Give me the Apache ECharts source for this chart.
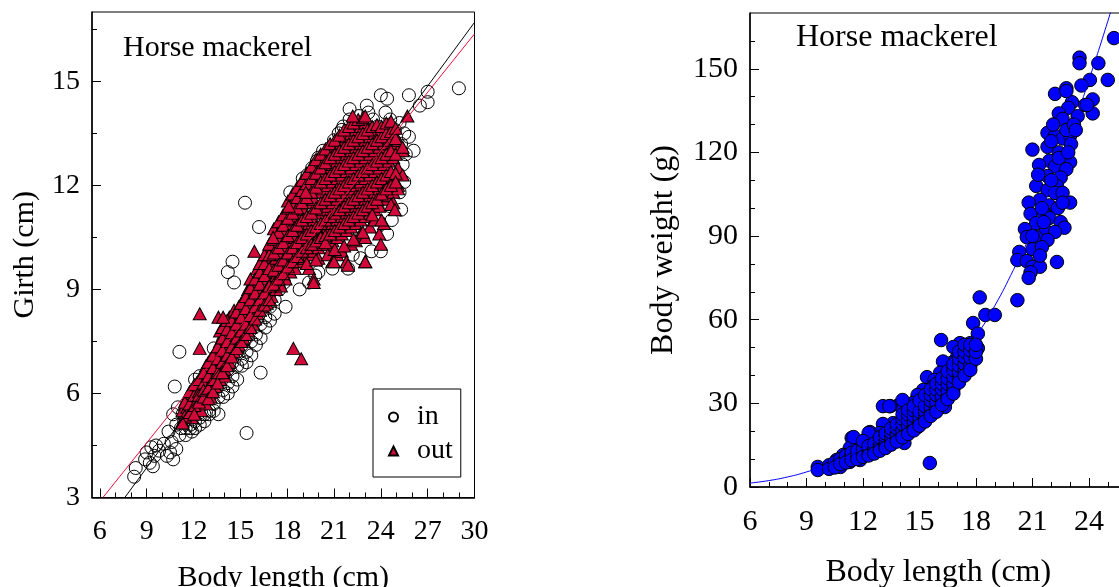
<!DOCTYPE html>
<html>
<head>
<meta charset="utf-8">
<script src="https://cdn.jsdelivr.net/npm/echarts@6/dist/echarts.min.js"></script>
<style>
  body { margin: 0; background: #fff; }
  #chart { width: 1119px; height: 587px; }
</style>
</head>
<body>
<div id="chart"></div>
<script>
// tick labels
var leftXTicks = [6, 9, 12, 15, 18, 21, 24, 27, 30];
var leftXMinor = [7, 8, 10, 11, 13, 14, 16, 17, 19, 20, 22, 23, 25, 26, 28, 29];
var leftYTicks = [3, 6, 9, 12, 15];
var leftYMinor = [4.5, 7.5, 10.5, 13.5, 16.5];
var rightXTicks = [6, 9, 12, 15, 18, 21, 24];
var rightXMinor = [7, 8, 10, 11, 13, 14, 16, 17, 19, 20, 22, 23, 25];
var rightYTicks = [0, 30, 60, 90, 120, 150];
var rightYMinor = [10, 20, 40, 50, 70, 80, 100, 110, 130, 140, 160];

// girth vs length, fish caught "in"
var inPoints = [
  [8.2, 3.6], [8.3, 3.85], [8.9, 4.1], [9.0, 4.3], [9.2, 4.0], [9.4, 3.9], [9.3, 4.45], [9.6, 4.5],
  [9.5, 4.2], [9.8, 4.35], [10.1, 4.55], [10.3, 4.2], [10.5, 4.3], [10.6, 4.6], [10.4, 4.9], [10.7, 4.1],
  [10.9, 4.4], [10.9, 5.1], [11.1, 4.8], [11.2, 5.0], [11.4, 5.2], [10.7, 5.4], [11.0, 5.6], [11.3, 5.4],
  [11.1, 7.2], [10.8, 6.2], [11.9, 4.9],
  [11.5, 5.0], [11.5, 5.3], [11.5, 5.6], [11.5, 4.8],
  [11.8, 5.1], [11.8, 5.4], [11.8, 5.7], [11.8, 5.0],
  [12.1, 5.2], [12.1, 5.5], [12.1, 5.8], [12.1, 5.0], [12.1, 6.4],
  [12.4, 5.3], [12.4, 5.6], [12.4, 5.9], [12.4, 5.1], [12.4, 6.5],
  [12.7, 5.4], [12.7, 5.7], [12.7, 6.1], [12.7, 5.2],
  [13.0, 5.5], [13.0, 5.9], [13.0, 6.3], [13.0, 5.4], [13.0, 6.6],
  [13.3, 5.7], [13.3, 6.1], [13.3, 6.5], [13.3, 5.5], [13.3, 7.3],
  [13.6, 5.9], [13.6, 6.3], [13.6, 6.7], [13.6, 5.4], [13.6, 7.0],
  [13.9, 6.1], [13.9, 6.5], [13.9, 6.9], [13.9, 5.9], [13.9, 7.5],
  [14.2, 6.3], [14.2, 6.7], [14.2, 7.1], [14.2, 6.0],
  [14.5, 6.5], [14.5, 6.9], [14.5, 7.3], [14.5, 6.2],
  [14.8, 6.8], [14.8, 7.2], [14.8, 7.6], [14.8, 6.4],
  [15.1, 7.0], [15.1, 7.4], [15.1, 7.8], [15.1, 6.8], [15.1, 8.4],
  [15.4, 7.2], [15.4, 7.6], [15.4, 8.0], [15.4, 6.9],
  [15.7, 7.5], [15.7, 7.9], [15.7, 8.3], [15.7, 7.1],
  [16.0, 7.7], [16.0, 8.1], [16.0, 8.5], [16.0, 7.4], [16.0, 8.9],
  [16.3, 8.0], [16.3, 8.4], [16.3, 8.8], [16.3, 7.6],
  [16.6, 8.2], [16.6, 8.6], [16.6, 9.0], [16.6, 7.9], [16.6, 9.5],
  [16.9, 8.5], [16.9, 8.9], [16.9, 9.3], [16.9, 8.1],
  [17.2, 8.7], [17.2, 9.1], [17.2, 9.5], [17.2, 8.3], [17.2, 9.9],
  [17.5, 9.0], [17.5, 9.4], [17.5, 9.8], [17.8, 9.2], [17.8, 9.6],
  [18.3, 11.4], [18.6, 11.7], [19.0, 12.0], [19.3, 12.3], [19.6, 12.5], [20.0, 12.8], [20.3, 13.0], [20.6, 12.2],
  [21.0, 13.3], [21.3, 13.5], [21.6, 13.7], [22.0, 13.9], [22.4, 13.4], [22.6, 14.0], [23.2, 14.1], [23.5, 13.9],
  [23.8, 13.7], [24.3, 14.1], [24.6, 13.9], [24.9, 13.6], [25.2, 13.8], [25.5, 13.5], [25.3, 13.2], [25.6, 12.9],
  [25.4, 12.6], [25.5, 12.1], [25.2, 11.8], [25.3, 11.3], [24.7, 11.0], [24.4, 10.6], [24.0, 10.1], [23.4, 10.1],
  [22.7, 9.9], [21.9, 9.6], [20.9, 9.6], [20.0, 9.5], [19.4, 9.2], [18.8, 9.0], [19.8, 9.4], [22.2, 10.0],
  [23.8, 10.8], [24.6, 11.4], [24.9, 12.4],
  [20.5, 11.0], [21.5, 12.0], [22.5, 12.5], [23.5, 12.0], [19.5, 10.5], [18.5, 10.2], [24.0, 13.0],
  [15.3, 11.5], [16.2, 10.8], [14.5, 9.8], [14.2, 9.5], [14.6, 9.2], [15.4, 4.86], [16.3, 6.6],
  [17.9, 8.5], [18.2, 11.8], [19.0, 12.2], [19.9, 12.7], [22.0, 14.2], [23.1, 14.3], [24.0, 14.6],
  [24.4, 14.5], [25.8, 14.6], [27.0, 14.7], [27.0, 14.4], [29.0, 14.8], [26.5, 14.3], [26.1, 13.0],
  [25.8, 13.4], [21.5, 13.6], [20.8, 13.1]
];

// girth vs length, fish caught "out"
var outPoints = [
  [11.3, 5.2], [11.3, 5.5],
  [11.6, 5.4], [11.6, 5.9], [11.6, 5.6],
  [11.9, 5.5], [11.9, 5.8], [11.9, 6.0], [11.9, 5.3],
  [12.2, 5.6], [12.2, 6.1], [12.2, 5.9], [12.2, 6.3],
  [12.5, 5.8], [12.5, 6.2], [12.5, 6.5], [12.5, 5.5], [12.5, 6.0],
  [12.8, 6.0], [12.8, 6.4], [12.8, 6.8], [12.8, 5.7], [12.8, 6.2],
  [13.1, 6.3], [13.1, 6.6], [13.1, 7.0], [13.1, 5.9], [13.1, 6.8],
  [13.4, 6.5], [13.4, 6.9], [13.4, 7.2], [13.4, 6.2], [13.4, 6.7],
  [13.7, 6.8], [13.7, 7.1], [13.7, 7.5], [13.7, 6.4], [13.7, 7.8],
  [14.0, 7.0], [14.0, 7.4], [14.0, 7.7], [14.0, 6.7], [14.0, 8.0], [14.0, 6.5],
  [14.3, 7.2], [14.3, 7.6], [14.3, 8.0], [14.3, 6.9], [14.3, 8.2], [14.3, 7.4],
  [14.6, 7.5], [14.6, 7.9], [14.6, 8.2], [14.6, 7.2], [14.6, 8.4],
  [14.9, 7.7], [14.9, 8.1], [14.9, 8.5], [14.9, 7.4], [14.9, 8.0],
  [15.2, 7.9], [15.2, 8.3], [15.2, 8.7], [15.2, 7.6], [15.2, 8.5],
  [15.5, 8.1], [15.5, 8.6], [15.5, 8.9], [15.5, 7.8], [15.5, 9.0],
  [15.8, 8.4], [15.8, 8.8], [15.8, 9.2], [15.8, 8.0],
  [16.1, 8.6], [16.1, 9.0], [16.1, 9.4], [16.1, 8.3], [16.1, 9.6],
  [16.4, 8.8], [16.4, 9.3], [16.4, 9.6], [16.4, 8.5], [16.4, 9.8],
  [16.7, 9.0], [16.7, 9.5], [16.7, 9.9], [16.7, 8.6], [16.7, 10.1],
  [17.0, 9.2], [17.0, 9.7], [17.0, 10.1], [17.0, 8.8], [17.0, 10.4],
  [17.3, 9.4], [17.3, 9.9], [17.3, 10.3], [17.3, 9.0], [17.3, 10.6],
  [17.6, 9.5], [17.6, 10.0], [17.6, 10.5], [17.6, 9.1], [17.6, 10.8], [17.6, 11.0],
  [17.9, 9.7], [17.9, 10.2], [17.9, 10.7], [17.9, 9.3], [17.9, 11.0], [17.9, 10.4],
  [18.2, 9.9], [18.2, 10.4], [18.2, 10.9], [18.2, 9.5], [18.2, 11.2], [18.2, 11.4],
  [18.5, 10.0], [18.5, 10.5], [18.5, 11.0], [18.5, 9.6], [18.5, 11.3], [18.5, 11.6], [18.5, 10.8],
  [18.8, 10.2], [18.8, 10.7], [18.8, 11.2], [18.8, 9.8], [18.8, 11.5], [18.8, 11.8],
  [19.1, 10.3], [19.1, 10.8], [19.1, 11.3], [19.1, 9.9], [19.1, 11.7], [19.1, 12.0], [19.1, 11.0],
  [19.4, 10.4], [19.4, 10.9], [19.4, 11.5], [19.4, 10.0], [19.4, 11.9], [19.4, 12.2], [19.4, 9.6],
  [19.7, 10.5], [19.7, 11.0], [19.7, 11.6], [19.7, 10.1], [19.7, 12.0], [19.7, 12.4], [19.7, 9.3],
  [20.0, 10.6], [20.0, 11.2], [20.0, 11.8], [20.0, 10.2], [20.0, 12.2], [20.0, 12.6], [20.0, 9.9],
  [20.3, 10.7], [20.3, 11.3], [20.3, 11.9], [20.3, 10.3], [20.3, 12.3], [20.3, 12.7], [20.3, 11.5],
  [20.6, 10.8], [20.6, 11.4], [20.6, 12.0], [20.6, 10.3], [20.6, 12.5], [20.6, 12.9], [20.6, 10.0],
  [20.9, 10.9], [20.9, 11.5], [20.9, 12.1], [20.9, 10.4], [20.9, 12.6], [20.9, 13.0], [20.9, 9.8],
  [21.2, 11.0], [21.2, 11.6], [21.2, 12.2], [21.2, 10.5], [21.2, 12.7], [21.2, 13.1], [21.2, 10.0], [21.2, 11.9],
  [21.5, 11.1], [21.5, 11.7], [21.5, 12.3], [21.5, 10.6], [21.5, 12.8], [21.5, 13.3], [21.5, 10.1],
  [21.8, 11.2], [21.8, 11.8], [21.8, 12.4], [21.8, 10.7], [21.8, 12.9], [21.8, 13.4], [21.8, 9.8], [21.8, 12.1],
  [22.1, 11.3], [22.1, 11.9], [22.1, 12.5], [22.1, 10.8], [22.1, 13.0], [22.1, 13.5], [22.1, 10.3],
  [22.4, 11.4], [22.4, 12.0], [22.4, 12.6], [22.4, 10.9], [22.4, 13.1], [22.4, 13.6], [22.4, 10.4], [22.4, 11.7],
  [22.7, 11.5], [22.7, 12.1], [22.7, 12.7], [22.7, 11.0], [22.7, 13.2], [22.7, 13.7], [22.7, 10.6],
  [23.0, 11.6], [23.0, 12.2], [23.0, 12.8], [23.0, 11.1], [23.0, 13.3], [23.0, 13.8], [23.0, 10.5], [23.0, 9.8],
  [23.3, 11.7], [23.3, 12.3], [23.3, 12.9], [23.3, 11.2], [23.3, 13.4], [23.3, 13.6], [23.3, 10.8],
  [23.6, 11.8], [23.6, 12.4], [23.6, 13.0], [23.6, 11.3], [23.6, 13.5], [23.6, 11.0],
  [23.9, 11.9], [23.9, 12.5], [23.9, 13.1], [23.9, 11.4], [23.9, 13.5], [23.9, 10.6],
  [24.2, 12.0], [24.2, 12.6], [24.2, 13.2], [24.2, 11.6], [24.2, 13.5], [24.2, 10.9],
  [24.5, 12.1], [24.5, 12.7], [24.5, 13.3], [24.5, 11.7], [24.5, 13.6],
  [24.8, 12.2], [24.8, 12.8], [24.8, 13.2], [24.8, 11.8], [24.8, 13.5], [24.8, 11.5],
  [25.1, 12.0], [25.1, 12.5], [25.1, 13.0], [25.1, 11.9], [25.1, 13.3],
  [25.4, 13.0], [25.4, 12.3],
  [11.45, 5.35], [11.45, 5.75],
  [11.75, 5.45], [11.75, 5.7], [11.75, 6.05],
  [12.05, 5.65], [12.05, 5.95], [12.05, 6.25], [12.05, 5.4],
  [12.35, 5.75], [12.35, 6.05], [12.35, 6.4], [12.35, 5.95],
  [12.65, 5.9], [12.65, 6.3], [12.65, 6.6], [12.65, 6.1],
  [12.95, 6.15], [12.95, 6.5], [12.95, 6.9], [12.95, 5.85],
  [13.25, 6.4], [13.25, 6.75], [13.25, 7.1], [13.25, 6.05],
  [13.55, 6.6], [13.55, 7.0], [13.55, 7.35], [13.55, 6.3],
  [13.85, 6.9], [13.85, 7.25], [13.85, 7.6], [13.85, 6.6], [13.85, 7.9],
  [14.15, 7.1], [14.15, 7.5], [14.15, 7.85], [14.15, 6.8], [14.15, 8.1],
  [14.45, 7.35], [14.45, 7.75], [14.45, 8.1], [14.45, 7.05],
  [14.75, 7.6], [14.75, 8.0], [14.75, 8.35], [14.75, 7.3],
  [15.05, 7.8], [15.05, 8.2], [15.05, 8.6], [15.05, 7.5],
  [15.35, 8.0], [15.35, 8.45], [15.35, 8.8], [15.35, 7.7],
  [15.65, 8.25], [15.65, 8.7], [15.65, 9.05], [15.65, 7.9], [15.65, 9.3],
  [15.95, 8.5], [15.95, 8.9], [15.95, 9.3], [15.95, 8.15],
  [16.25, 8.7], [16.25, 9.15], [16.25, 9.5], [16.25, 8.4], [16.25, 9.75],
  [16.55, 8.9], [16.55, 9.4], [16.55, 9.75], [16.55, 8.55], [16.55, 10.0],
  [16.85, 9.1], [16.85, 9.6], [16.85, 10.0], [16.85, 8.7], [16.85, 10.3],
  [17.15, 9.55], [17.15, 10.05], [17.15, 10.45], [17.15, 9.15], [17.15, 10.75],
  [17.45, 9.7], [17.45, 10.2], [17.45, 10.65], [17.45, 9.3], [17.45, 10.95],
  [17.75, 9.85], [17.75, 10.35], [17.75, 10.85], [17.75, 9.45], [17.75, 11.15],
  [18.05, 10.05], [18.05, 10.55], [18.05, 11.05], [18.05, 9.65], [18.05, 11.35], [18.05, 11.55],
  [18.35, 10.2], [18.35, 10.7], [18.35, 11.2], [18.35, 9.8], [18.35, 11.5], [18.35, 11.75],
  [18.65, 10.35], [18.65, 10.85], [18.65, 11.35], [18.65, 9.95], [18.65, 11.65], [18.65, 11.95],
  [18.95, 10.5], [18.95, 11.0], [18.95, 11.5], [18.95, 10.1], [18.95, 11.85], [18.95, 12.15],
  [19.25, 10.6], [19.25, 11.1], [19.25, 11.65], [19.25, 10.2], [19.25, 12.05], [19.25, 12.35], [19.25, 9.75],
  [19.55, 10.7], [19.55, 11.2], [19.55, 11.8], [19.55, 10.3], [19.55, 12.2], [19.55, 12.55],
  [19.85, 10.8], [19.85, 11.35], [19.85, 11.95], [19.85, 10.4], [19.85, 12.35], [19.85, 12.75], [19.85, 9.85],
  [20.15, 10.9], [20.15, 11.5], [20.15, 12.1], [20.15, 10.5], [20.15, 12.5], [20.15, 12.9],
  [20.45, 11.0], [20.45, 11.6], [20.45, 12.2], [20.45, 10.55], [20.45, 12.65], [20.45, 13.05], [20.45, 10.35],
  [20.75, 11.1], [20.75, 11.7], [20.75, 12.3], [20.75, 10.6], [20.75, 12.8], [20.75, 13.2],
  [21.05, 11.2], [21.05, 11.8], [21.05, 12.4], [21.05, 10.7], [21.05, 12.9], [21.05, 13.3], [21.05, 10.15],
  [21.35, 11.3], [21.35, 11.9], [21.35, 12.5], [21.35, 10.8], [21.35, 13.0], [21.35, 13.45],
  [21.65, 11.4], [21.65, 12.0], [21.65, 12.6], [21.65, 10.9], [21.65, 13.1], [21.65, 13.6], [21.65, 10.25],
  [21.95, 11.5], [21.95, 12.1], [21.95, 12.7], [21.95, 11.0], [21.95, 13.2], [21.95, 13.7],
  [22.25, 11.6], [22.25, 12.2], [22.25, 12.8], [22.25, 11.1], [22.25, 13.3], [22.25, 13.8], [22.25, 10.45],
  [22.55, 11.7], [22.55, 12.3], [22.55, 12.9], [22.55, 11.2], [22.55, 13.4], [22.55, 13.9],
  [22.85, 11.8], [22.85, 12.4], [22.85, 13.0], [22.85, 11.3], [22.85, 13.5], [22.85, 13.95], [22.85, 10.65],
  [23.15, 11.9], [23.15, 12.5], [23.15, 13.1], [23.15, 11.4], [23.15, 13.6],
  [23.45, 12.0], [23.45, 12.6], [23.45, 13.2], [23.45, 11.5], [23.45, 13.7], [23.45, 11.15],
  [23.75, 12.1], [23.75, 12.7], [23.75, 13.3], [23.75, 11.6], [23.75, 13.75],
  [24.05, 12.2], [24.05, 12.8], [24.05, 13.4], [24.05, 11.75], [24.05, 13.7], [24.05, 11.0],
  [24.35, 12.3], [24.35, 12.9], [24.35, 13.5], [24.35, 11.9], [24.35, 13.8],
  [24.65, 12.4], [24.65, 13.0], [24.65, 13.55], [24.65, 12.0], [24.65, 13.85], [24.65, 11.45],
  [24.95, 12.35], [24.95, 12.9], [24.95, 13.35], [24.95, 12.1], [24.95, 13.65],
  [18.4, 7.3], [18.9, 7.0], [12.4, 8.3], [12.4, 7.3], [13.6, 8.2], [13.9, 8.2], [15.9, 10.1],
  [11.3, 5.15], [22.2, 14.0], [23.0, 14.0], [25.7, 14.0], [25.4, 13.1], [24.9, 11.3], [24.0, 10.3],
  [23.0, 9.8], [21.9, 9.7], [21.0, 9.8], [19.7, 9.2], [17.1, 10.5], [18.1, 11.4], [19.2, 11.8]
];

// fitted lines (end points)
var fitIn = [[7.6, 3], [30, 16.7]];
var fitOut = [[6.2, 3], [30, 16.37]];

// body weight vs length
var weightPoints = [
  [25.33, 161], [23.5, 154], [23.5, 152], [24.5, 152], [25.0, 146], [24.05, 146], [23.6, 144], [22.8, 143],
  [22.2, 141], [24.2, 139], [24.2, 134], [23.8, 137], [23.1, 138], [22.9, 136], [23.4, 133], [22.4, 134],
  [22.6, 132], [21.8, 127], [22.2, 126], [22.6, 125], [23.0, 126], [23.05, 123], [21.0, 121], [21.8, 122],
  [22.4, 120], [21.9, 117], [22.7, 118], [23.0, 116.5], [21.35, 115.5], [22.2, 115], [22.8, 114], [21.8, 111.5],
  [22.5, 111], [21.2, 108], [22.3, 108], [21.8, 106.5], [22.2, 105.5], [22.6, 105.5], [21.4, 103], [20.8, 102],
  [23.0, 102], [21.9, 101], [22.35, 100], [20.9, 98], [21.6, 98.5], [21.9, 96.5], [22.5, 95], [21.2, 94.6],
  [22.7, 93], [20.6, 92.5], [21.7, 92], [22.2, 91.5], [20.7, 89.6], [21.2, 89.6], [21.8, 88.6], [21.0, 85.3],
  [21.5, 86], [20.3, 84.3], [20.2, 81.4], [20.7, 81], [22.3, 80.7], [21.0, 79], [21.4, 79], [20.9, 77],
  [20.8, 75], [20.2, 67], [23.9, 137], [22.8, 142],
  [21.5, 100], [22.0, 110], [22.4, 118], [21.6, 95], [22.8, 128], [23.2, 130], [21.3, 112], [22.0, 124],
  [22.6, 102], [21.0, 90], [21.4, 83], [22.1, 130], [23.3, 128], [22.9, 120],
  [18.2, 68], [18.5, 61.7], [19.0, 61.7], [17.85, 58.8], [18.1, 55], [16.15, 52.7], [18.1, 49.8], [17.7, 51.6],
  [17.15, 51.6], [16.8, 50.2], [17.3, 48.4], [17.6, 48.4], [17.0, 46.6], [17.4, 42], [16.7, 44.5], [16.25, 45],
  [16.1, 41], [16.6, 41.4], [17.05, 42.7], [15.4, 39.4], [16.35, 28.7], [15.8, 38.4], [15.7, 36], [16.35, 36],
  [16.6, 37.6], [16.1, 34.8], [15.2, 34.8], [14.9, 33], [15.35, 31.2], [15.9, 31.9], [14.65, 30.1], [14.4, 28.3],
  [13.9, 29.4], [13.45, 29], [14.1, 31.2], [15.0, 29.4], [14.65, 25.8], [13.6, 22.9], [13.06, 22.6], [14.1, 24],
  [14.9, 21.5], [14.2, 15.8], [12.9, 19.4], [12.37, 19.7], [11.4, 17.6], [13.45, 19.4], [13.8, 19.7], [11.95, 15],
  [12.5, 15.8], [11.3, 14], [11.7, 12.2], [10.95, 11.5], [10.6, 9.7], [10.8, 7.2], [10.25, 7.2], [9.6, 7.2],
  [9.6, 6.1], [15.55, 8.6], [11.3, 9.0], [12.1, 12.2], [12.75, 14.3], [13.3, 15.8], [11.85, 9.7],
  [13.06, 29], [13.4, 29], [11.5, 17.9], [12.3, 19.4],
  [10.2, 7.8], [10.2, 6.5],
  [10.5, 8.0], [10.5, 8.8], [10.5, 7.0],
  [10.8, 9.0], [10.8, 10.0], [10.8, 8.2],
  [11.1, 9.5], [11.1, 10.8], [11.1, 11.2], [11.1, 8.8],
  [11.4, 10.2], [11.4, 11.4], [11.4, 12.3], [11.4, 9.6],
  [11.7, 10.8], [11.7, 12.0], [11.7, 13.0], [11.7, 10.0],
  [12.0, 11.5], [12.0, 12.8], [12.0, 13.8], [12.0, 10.8], [12.0, 16.5],
  [12.3, 12.2], [12.3, 13.6], [12.3, 14.7], [12.3, 11.3],
  [12.6, 13.0], [12.6, 14.5], [12.6, 15.6], [12.6, 12.0],
  [12.9, 14.0], [12.9, 15.5], [12.9, 16.8], [12.9, 13.0], [12.9, 17.8],
  [13.2, 15.0], [13.2, 16.6], [13.2, 18.0], [13.2, 14.0], [13.2, 19.2],
  [13.5, 16.0], [13.5, 17.8], [13.5, 19.5], [13.5, 15.2], [13.5, 21.0],
  [13.8, 17.5], [13.8, 19.0], [13.8, 21.0], [13.8, 16.3], [13.8, 22.5],
  [14.1, 18.8], [14.1, 20.5], [14.1, 22.5], [14.1, 17.8], [14.1, 24.5], [14.1, 26.0],
  [14.4, 20.0], [14.4, 22.0], [14.4, 24.0], [14.4, 19.0], [14.4, 26.0], [14.4, 27.5],
  [14.7, 21.5], [14.7, 23.5], [14.7, 25.5], [14.7, 20.3], [14.7, 27.5], [14.7, 29.0],
  [15.0, 23.0], [15.0, 25.0], [15.0, 27.0], [15.0, 22.0], [15.0, 31.0],
  [15.3, 24.8], [15.3, 27.0], [15.3, 29.0], [15.3, 23.5], [15.3, 33.0],
  [15.6, 26.5], [15.6, 28.8], [15.6, 31.0], [15.6, 25.5], [15.6, 33.0], [15.6, 35.0],
  [15.9, 28.5], [15.9, 30.5], [15.9, 33.0], [15.9, 27.0], [15.9, 35.0], [15.9, 37.0],
  [16.2, 30.5], [16.2, 32.5], [16.2, 35.0], [16.2, 29.5], [16.2, 37.0], [16.2, 39.0],
  [16.5, 32.5], [16.5, 34.5], [16.5, 37.0], [16.5, 31.5], [16.5, 39.0], [16.5, 41.5],
  [16.8, 35.0], [16.8, 37.0], [16.8, 39.5], [16.8, 33.5], [16.8, 42.0], [16.8, 44.0],
  [17.1, 39.0], [17.1, 41.0], [17.1, 43.5], [17.1, 37.5], [17.1, 46.0], [17.1, 48.5],
  [17.4, 41.5], [17.4, 44.0], [17.4, 46.5], [17.4, 40.0], [17.4, 48.5], [17.4, 51.0],
  [17.7, 43.5], [17.7, 46.5], [17.7, 49.0], [17.7, 42.0], [17.7, 51.0],
  [18.0, 46.0], [18.0, 48.5], [18.0, 51.0]
];

// weight-length curve
var weightCurve = [
  [6, 1.4], [7, 2.3], [8, 3.6], [9, 5.4], [10, 7.6], [11, 10.4], [12, 14], [13, 18.3], [14, 23.5],
  [15, 30], [16, 37], [17, 45], [18, 54], [19, 65], [20, 78], [21, 92], [22, 108], [23, 126],
  [24, 146], [25, 167], [25.3, 174]
];

var serif = "'Liberation Serif', 'Times New Roman', Times, serif";

function mainX(grid, min, max, ticks, fontSize, gap) {
  return {
    type: 'value', gridIndex: grid, min: min, max: max, position: 'bottom',
    name: 'Body length (cm)', nameLocation: 'middle', nameGap: gap,
    nameTextStyle: { fontFamily: serif, fontSize: fontSize + 2, color: '#000' },
    axisLine: { lineStyle: { color: '#000', width: 1.5 } },
    axisTick: { inside: true, length: 9, customValues: ticks, lineStyle: { color: '#000', width: 1 } },
    axisLabel: { customValues: ticks, fontFamily: serif, fontSize: fontSize, color: '#000', margin: 20 },
    splitLine: { show: false }
  };
}
function minorX(grid, min, max, ticks) {
  return {
    type: 'value', gridIndex: grid, min: min, max: max, position: 'bottom', offset: 0,
    axisLine: { show: false },
    axisTick: { inside: true, length: 5, customValues: ticks, lineStyle: { color: '#000', width: 1 } },
    axisLabel: { show: false }, splitLine: { show: false }
  };
}
function mainY(grid, min, max, ticks, fontSize, name, gap) {
  return {
    type: 'value', gridIndex: grid, min: min, max: max, position: 'left',
    name: name, nameLocation: 'middle', nameGap: gap,
    nameTextStyle: { fontFamily: serif, fontSize: fontSize + 2, color: '#000' },
    axisLine: { lineStyle: { color: '#000', width: 1.5 } },
    axisTick: { inside: true, length: 9, customValues: ticks, lineStyle: { color: '#000', width: 1 } },
    axisLabel: { customValues: ticks, fontFamily: serif, fontSize: fontSize, color: '#000', margin: 12 },
    splitLine: { show: false }
  };
}
function minorY(grid, min, max, ticks) {
  return {
    type: 'value', gridIndex: grid, min: min, max: max, position: 'left', offset: 0,
    axisLine: { show: false },
    axisTick: { inside: true, length: 5, customValues: ticks, lineStyle: { color: '#000', width: 1 } },
    axisLabel: { show: false }, splitLine: { show: false }
  };
}

var myChart = echarts.init(document.getElementById('chart'));
myChart.setOption({
  animation: false,
  backgroundColor: '#fff',
  textStyle: { fontFamily: serif },
  title: [
    { text: 'Horse mackerel', left: 123, top: 33, padding: 0,
      textStyle: { fontFamily: serif, fontSize: 30, fontWeight: 'normal', color: '#000' } },
    { text: 'Horse mackerel', left: 796, top: 22, padding: 0,
      textStyle: { fontFamily: serif, fontSize: 32, fontWeight: 'normal', color: '#000' } }
  ],
  legend: {
    data: ['in', 'out'], orient: 'vertical', left: 373, top: 389,
    padding: [14, 8, 12, 15], itemGap: 6, itemWidth: 9, itemHeight: 9,
    borderColor: '#000', borderWidth: 1, backgroundColor: '#fff',
    selectedMode: false,
    textStyle: { fontFamily: serif, fontSize: 28, color: '#000', padding: [0, 0, 0, 14] }
  },
  grid: [
    { left: 92, top: 12, width: 382.5, height: 485.5, outerBoundsMode: 'none',
      show: true, borderColor: '#000', borderWidth: 1 },
    { left: 750, top: 13, width: 376.6, height: 474, outerBoundsMode: 'none',
      show: true, borderColor: '#000', borderWidth: 1 }
  ],
  xAxis: [
    mainX(0, 5.5, 30, leftXTicks, 28, 66),
    minorX(0, 5.5, 30, leftXMinor),
    mainX(1, 6, 26, rightXTicks, 30, 70),
    minorX(1, 6, 26, rightXMinor)
  ],
  yAxis: [
    mainY(0, 3, 17, leftYTicks, 28, 'Girth (cm)', 52),
    minorY(0, 3, 17, leftYMinor),
    mainY(1, 0, 170, rightYTicks, 30, 'Body weight (g)', 70),
    minorY(1, 0, 170, rightYMinor)
  ],
  series: [
    {
      name: 'in', type: 'scatter', xAxisIndex: 0, yAxisIndex: 0, data: inPoints,
      symbol: 'circle', symbolSize: 13,
      itemStyle: { color: 'rgba(255,255,255,0)', borderColor: '#000', borderWidth: 1, opacity: 1 }
    },
    {
      name: 'out', type: 'scatter', xAxisIndex: 0, yAxisIndex: 0, data: outPoints,
      symbol: 'triangle', symbolSize: [13, 12],
      itemStyle: { color: '#D20A3A', borderColor: '#000', borderWidth: 1, opacity: 1 }
    },
    {
      type: 'line', xAxisIndex: 0, yAxisIndex: 0, data: fitIn, showSymbol: false, z: 5,
      lineStyle: { color: '#000', width: 1 }
    },
    {
      type: 'line', xAxisIndex: 0, yAxisIndex: 0, data: fitOut, showSymbol: false, z: 5,
      lineStyle: { color: '#E8103C', width: 1 }
    },
    {
      type: 'line', xAxisIndex: 2, yAxisIndex: 2, data: weightCurve, showSymbol: false, smooth: true,
      lineStyle: { color: '#0000FF', width: 1 }
    },
    {
      type: 'scatter', xAxisIndex: 2, yAxisIndex: 2, data: weightPoints,
      symbol: 'circle', symbolSize: 13.5,
      itemStyle: { color: '#0000FF', borderColor: '#000', borderWidth: 1, opacity: 1 }
    }
  ]
});
</script>
</body>
</html>
